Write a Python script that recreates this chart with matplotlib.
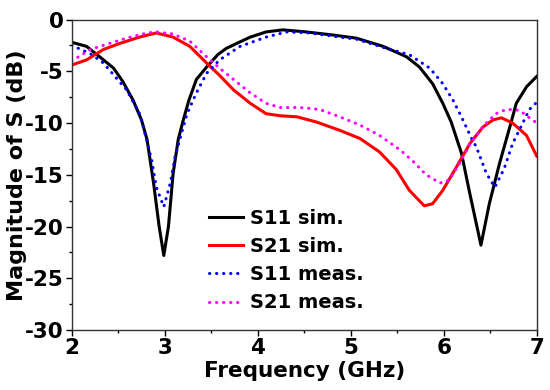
import numpy as np
import matplotlib
matplotlib.use("Agg")
import matplotlib.pyplot as plt

# values
f_s11_sim = [2.0, 2.16, 2.30, 2.45, 2.55, 2.66, 2.75, 2.81, 2.88, 2.94, 2.99, 3.04, 3.09, 3.145,
             3.2, 3.26, 3.34, 3.45, 3.57, 3.66, 3.80, 3.92, 4.09, 4.27, 4.52, 4.81, 5.06, 5.35,
             5.60, 5.74, 5.88, 5.99, 6.08, 6.19, 6.28, 6.40, 6.49, 6.60, 6.71, 6.78, 6.89, 7.0]
s11_sim = [-2.2, -2.6, -3.6, -4.7, -6.0, -7.8, -9.7, -11.6, -15.8, -20.0, -22.8, -20.0, -14.9, -11.6,
           -9.7, -7.8, -5.8, -4.6, -3.4, -2.8, -2.2, -1.7, -1.2, -1.0, -1.2, -1.5, -1.8, -2.6,
           -3.6, -4.6, -6.2, -8.1, -9.9, -12.9, -16.8, -21.8, -17.8, -13.9, -10.4, -8.1, -6.5, -5.5]

f_s21_sim = [2.0, 2.16, 2.34, 2.52, 2.73, 2.91, 3.09, 3.27, 3.45, 3.59, 3.74, 3.92, 4.09, 4.24,
             4.42, 4.63, 4.88, 5.10, 5.31, 5.49, 5.63, 5.79, 5.88, 5.99, 6.14, 6.28, 6.42, 6.53,
             6.62, 6.74, 6.89, 7.0]
s21_sim = [-4.4, -3.9, -2.9, -2.3, -1.7, -1.3, -1.7, -2.6, -4.2, -5.4, -6.8, -8.1, -9.1, -9.3,
           -9.4, -9.9, -10.7, -11.5, -12.8, -14.5, -16.5, -18.0, -17.8, -16.5, -14.2, -12.0, -10.4, -9.7,
           -9.5, -10.0, -11.2, -13.2]

f_s11_meas = [2.0, 2.2, 2.34, 2.59, 2.73, 2.77, 2.86, 2.91, 2.99, 3.06, 3.11, 3.18, 3.24, 3.34,
              3.45, 3.59, 3.81, 4.09, 4.31, 4.56, 4.88, 5.06, 5.35, 5.63, 5.85, 5.99, 6.10, 6.19,
              6.30, 6.35, 6.46, 6.55, 6.65, 6.74, 6.85, 6.92, 7.0]
s11_meas = [-2.5, -3.3, -4.2, -6.8, -9.1, -10.4, -13.6, -16.2, -18.1, -15.8, -13.3, -11.0, -9.1, -7.1,
            -5.2, -3.9, -2.6, -1.7, -1.2, -1.3, -1.7, -1.9, -2.7, -3.4, -4.7, -6.2, -7.8, -9.4,
            -11.5, -12.3, -14.9, -16.2, -14.4, -12.0, -10.0, -8.7, -8.0]

f_s21_meas = [2.0, 2.2, 2.41, 2.59, 2.81, 2.91, 3.09, 3.27, 3.45, 3.59, 3.74, 3.92, 4.09, 4.24,
              4.45, 4.67, 4.88, 5.10, 5.31, 5.53, 5.67, 5.81, 5.96, 6.06, 6.17, 6.28, 6.39, 6.46,
              6.56, 6.67, 6.75, 6.82, 6.92, 7.0]
s21_meas = [-4.0, -2.9, -2.3, -1.8, -1.3, -1.2, -1.4, -2.1, -3.6, -4.7, -5.8, -7.1, -8.1, -8.5,
            -8.5, -8.7, -9.4, -10.2, -11.2, -12.6, -13.7, -15.0, -15.8, -15.5, -13.9, -12.1, -10.7, -10.0,
            -9.1, -8.7, -8.7, -8.8, -9.5, -10.0]

labels = ["S11 sim.", "S21 sim.", "S11 meas.", "S21 meas."]

plt.rcParams['font.family'] = ['DejaVu Sans']
plt.rcParams['font.weight'] = 'bold'
plt.rcParams['axes.unicode_minus'] = False

fig = plt.figure(figsize=(5.5, 3.9), dpi=100)
ax = fig.add_axes([0.1304, 0.1538, 0.8455, 0.7962])

dots = (0, (0.1, 2.2))
ax.plot(f_s11_sim, s11_sim, color='black', lw=2.2, label=labels[0])
ax.plot(f_s21_sim, s21_sim, color='red', lw=2.2, label=labels[1])
ax.plot(f_s11_meas, s11_meas, color='blue', lw=2.2, ls=dots, dash_capstyle='round', label=labels[2])
ax.plot(f_s21_meas, s21_meas, color='magenta', lw=2.2, ls=dots, dash_capstyle='round', label=labels[3])

ax.set_xlim(2, 7)
ax.set_ylim(-30, 0)
ax.set_xticks(np.arange(2, 7.1, 1))
ax.set_xticks(np.arange(2.5, 7, 1), minor=True)
ax.set_yticks(np.arange(-30, 0.1, 5))
ax.set_yticks(np.arange(-27.5, 0, 5), minor=True)
ax.tick_params(which='major', length=4, width=1, labelsize=15.5, pad=2)
ax.tick_params(which='minor', length=2.5, width=1)
for s in ax.spines.values():
    s.set_linewidth(1.0)
    s.set_color('#333333')

ax.set_xlabel("Frequency (GHz)", fontsize=15.5, fontweight='bold', labelpad=2)
ax.set_ylabel("Magnitude of S (dB)", fontsize=16, fontweight='bold', labelpad=-2)

ax.legend(loc='upper left', bbox_to_anchor=(209 / 550, 1 - 209 / 390), bbox_transform=fig.transFigure,
          frameon=False, fontsize=14, handlelength=1.75, handletextpad=0.35, labelspacing=0.47,
          borderpad=0, borderaxespad=0)

fig.savefig("out.png", dpi=100)
